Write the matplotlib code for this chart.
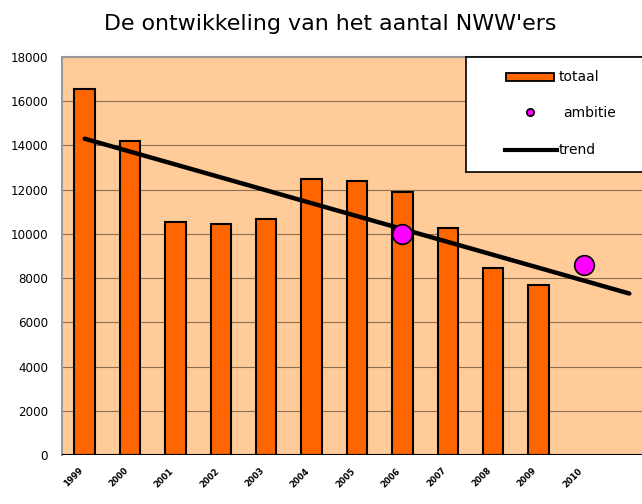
import numpy as np
import matplotlib.pyplot as plt
from matplotlib.patches import Rectangle

# data
years = ['1999', '2000', '2001', '2002', '2003', '2004', '2005', '2006',
         '2007', '2008', '2009', '2010', '']
totaal = [16550, 14200, 10550, 10450, 10650, 12500, 12400, 11900,
          10250, 8450, 7700]
ambitie_years = ['2006', '2010']
ambitie = [10000, 8600]
trend = [14300, 7300]   # value at first and last category
legend_labels = ['totaal', 'ambitie', 'trend']

bar_color = '#FF6600'
bg_color = '#FFCC99'
dot_color = '#FF00FF'

fig = plt.figure(figsize=(6.42, 5.04), dpi=100)
ax = fig.add_axes([0.0966, 0.0972, 0.919, 0.79])
ax.set_facecolor(bg_color)

x = np.arange(len(years))
ax.bar(x[:len(totaal)], totaal, width=0.45, color=bar_color,
       edgecolor='black', linewidth=1.5, zorder=2)

amb_x = [years.index(y) for y in ambitie_years]
ax.scatter(amb_x, ambitie, s=200, color=dot_color, edgecolors='black',
           linewidths=1.2, zorder=4)

ax.plot([x[0], x[-1]], trend, color='black', linewidth=3.2, zorder=3,
        solid_capstyle='round')

ax.set_xlim(-0.5, len(years) - 0.5)
ax.set_ylim(0, 18000)
ax.set_yticks(np.arange(0, 18001, 2000))
ax.yaxis.grid(True, color='#8C6E50', linewidth=0.8, zorder=0)
ax.set_axisbelow(True)
ax.tick_params(axis='y', length=0, labelsize=8.6, pad=10)
ax.set_xticks(x)
ax.set_xticklabels(years, rotation=45, fontsize=6, ha='right',
                   fontweight='bold')
ax.tick_params(axis='x', length=0, pad=8)

for side in ['right', 'bottom']:
    ax.spines[side].set_visible(False)
for side in ['top', 'left']:
    ax.spines[side].set_color('#999999')
    ax.spines[side].set_linewidth(1.5)
ax.axhline(0, color='black', linewidth=1.5, zorder=3)

fig.text(0.514, 0.953, "De ontwikkeling van het aantal NWW'ers",
         ha='center', va='center', fontsize=15.9)

# legend box, drawn in pixel units of the figure
lg = fig.add_axes([466 / 642, 1 - 172 / 504, 192 / 642, 115 / 504])
lg.set_xlim(466, 658)
lg.set_ylim(172, 57)
lg.set_xticks([])
lg.set_yticks([])
lg.set_facecolor('white')
for sp in lg.spines.values():
    sp.set_color('black')
    sp.set_linewidth(1.2)
lg.add_patch(Rectangle((506, 73), 48, 8, facecolor=bar_color,
                       edgecolor='black', linewidth=1.3))
lg.scatter([530], [112], s=28, color=dot_color, edgecolors='black',
           linewidths=1.2, zorder=3)
lg.plot([505, 557], [150, 150], color='black', linewidth=3)
for lab, tx, ty in zip(legend_labels, [559, 563, 559], [77, 113, 150]):
    lg.text(tx, ty, lab, fontsize=10, va='center', ha='left')

fig.savefig('out.png', dpi=100)
